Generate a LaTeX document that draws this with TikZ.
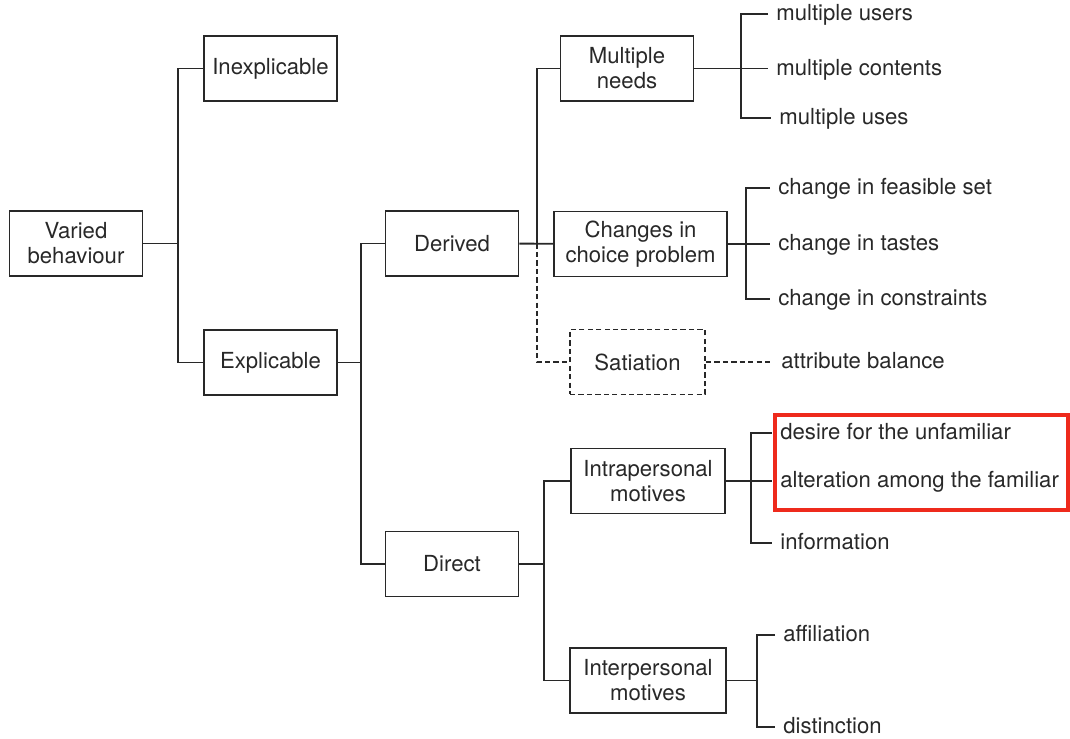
\documentclass[tikz,border=0pt]{standalone}
\usepackage{fontspec}
\setmainfont{TeX Gyre Heros}
\definecolor{highlight}{RGB}{238,42,28}
\definecolor{ink}{RGB}{40,40,40}
\tikzset{
	box/.style={draw=ink, text=ink, line width=1.1pt, minimum width=2.66cm, minimum height=1.3cm,
		align=center, inner sep=0pt, font=\fontsize{12.6}{14.3}\selectfont},
	leaf/.style={anchor=west, text=ink, inner sep=0.16cm, text height=2ex, text depth=0.5ex,
		font=\fontsize{12.6}{14.3}\selectfont},
	link/.style={draw=ink, line width=1.1pt},
	dashlink/.style={line width=1.1pt, dash pattern=on 3pt off 1.8pt},
}

\begin{document}
\begin{tikzpicture}[x=0.02cm,y=-0.02cm]
	\useasboundingbox (0,0) rectangle (1070,739);

	\node[box] (varied) at (76,243.5) {Varied\\behaviour};
	\node[box] (inexp) at (270.5,68.5) {Inexplicable};
	\node[box] (expl) at (270.5,362.5) {Explicable};
	\node[box] (derived) at (452,243.5) {Derived};
	\node[box] (direct) at (452,564) {Direct};
	\node[box] (needs) at (627,68.5) {Multiple\\needs};
	\node[box, minimum width=3.46cm] (changes) at (640.5,244) {Changes in\\choice problem};
	\node[box, dashlink, minimum width=2.7cm] (sat) at (637.5,362) {Satiation};
	\node[box, minimum width=3.08cm] (intra) at (648,481) {Intrapersonal\\motives};
	\node[box, minimum width=3.12cm] (inter) at (648,680.5) {Interpersonal\\motives};

	\coordinate (j1) at (178,243.5);
	\coordinate (j2) at (361,362.5);
	\coordinate (j3) at (537,243.5);
	\coordinate (j4) at (544,564);
	\coordinate (b1) at (741,68.5);
	\coordinate (b2) at (746,244);
	\coordinate (b3) at (751,481);
	\coordinate (b4) at (757,680.5);

	\node[leaf] (users) at (768,14) {multiple users};
	\node[leaf] (contents) at (768,68.5) {multiple contents};
	\node[leaf] (uses) at (771,118) {multiple uses};
	\node[leaf] (feasible) at (770,188) {change in feasible set};
	\node[leaf] (tastes) at (770,244) {change in tastes};
	\node[leaf] (constr) at (770,299) {change in constraints};
	\node[leaf] (attr) at (773,362) {attribute balance};
	\node[leaf] (desire) at (772,433) {desire for the unfamiliar};
	\node[leaf] (alter) at (772,481) {alteration among the familiar};
	\node[leaf] (info) at (772,543) {information};
	\node[leaf] (affil) at (775,635) {affiliation};
	\node[leaf] (dist) at (775,727) {distinction};

	\draw[link] (varied) -- (j1);
	\draw[link] (inexp.west) -| (j1) |- (expl.west);
	\draw[link] (expl) -- (j2);
	\draw[link] (derived.west) -| (j2) |- (direct.west);
	\draw[link] (derived) -- (changes);
	\draw[link] (needs.west) -| (j3);
	\draw[link, dashlink] (j3) |- (sat.west);
	\draw[link, dashlink] (sat) -- (attr.west);
	\draw[link] (direct) -- (j4);
	\draw[link] (intra.west) -| (j4) |- (inter.west);

	\draw[link] (needs) -- (contents.west);
	\draw[link] (users.west) -| (b1) |- (uses.west);
	\draw[link] (changes) -- (tastes.west);
	\draw[link] (feasible.west) -| (b2) |- (constr.west);
	\draw[link] (intra) -- (alter.west);
	\draw[link] (desire.west) -| (b3) |- (info.west);
	\draw[link] (inter) -- (b4);
	\draw[link] (affil.west) -| (b4) |- (dist.west);

	\draw[highlight, line width=2pt] (775,415) rectangle (1068,510);
\end{tikzpicture}
\end{document}
